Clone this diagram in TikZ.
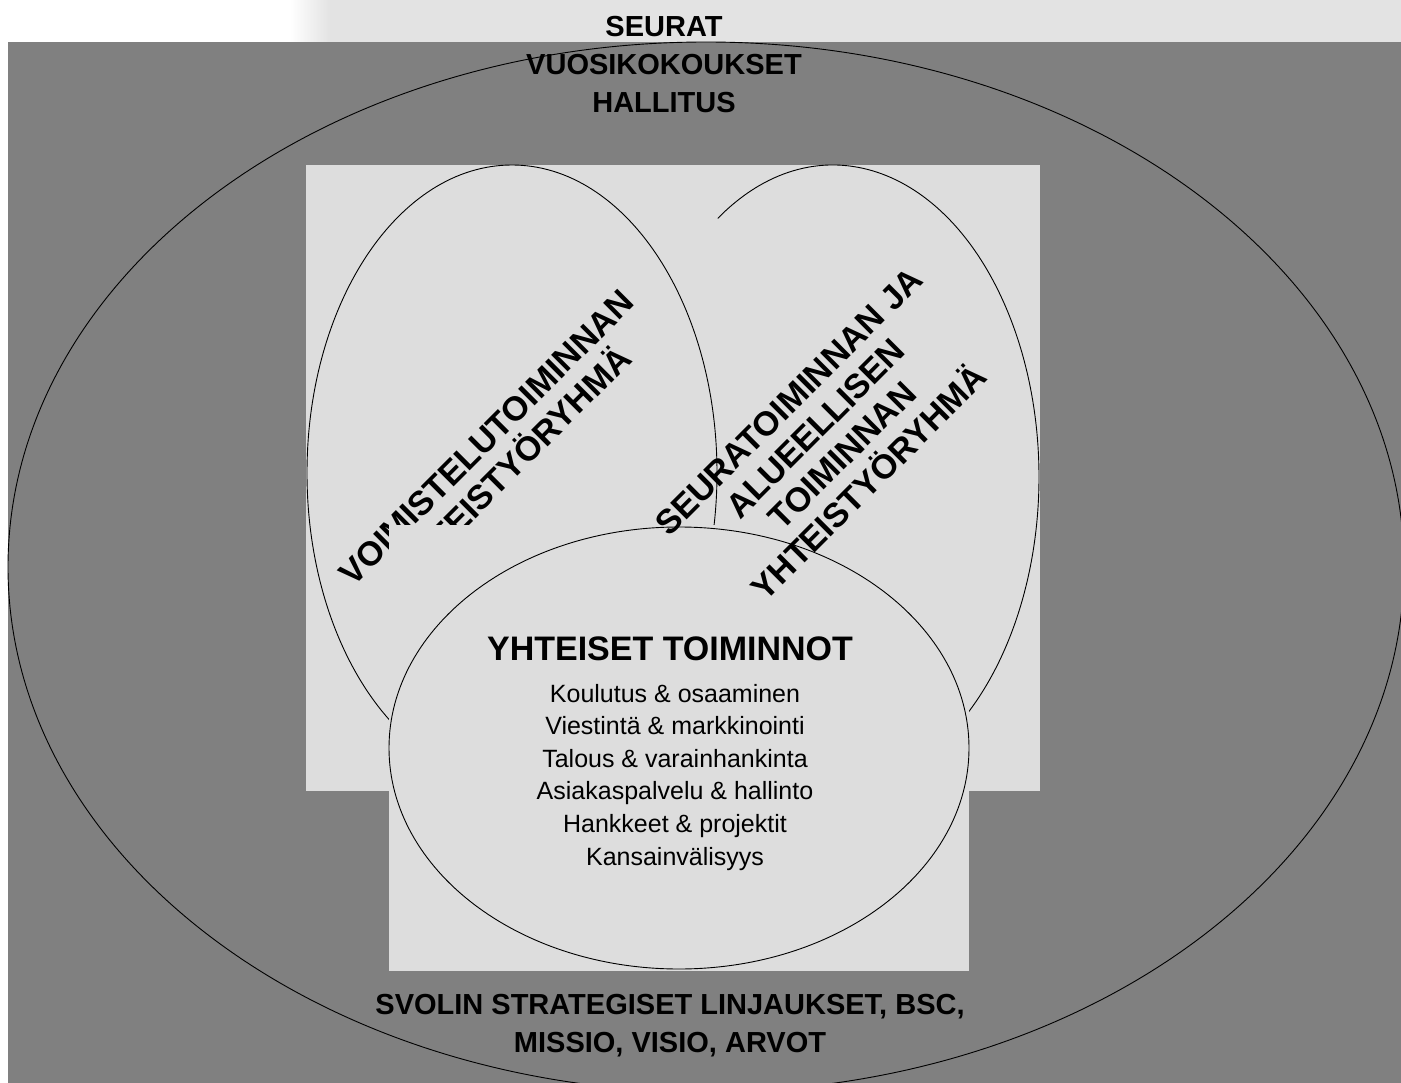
\documentclass[tikz,border=0pt]{standalone}
\usepackage{fontspec}
\setmainfont{Liberation Sans}
\definecolor{panelgray}{HTML}{808080}
\definecolor{boxgray}{HTML}{DDDDDD}
\definecolor{stripgray}{HTML}{E3E3E3}
\tikzset{
  rim/.style={draw=black, line width=0.9pt},
  bigtext/.style={font=\bfseries\fontsize{29}{38}\selectfont, align=center, inner sep=0pt},
  grouptext/.style={font=\bfseries\fontsize{34}{38}\selectfont, align=center, inner sep=0pt, rotate=45},
  itemtext/.style={font=\fontsize{25}{32.6}\selectfont, align=center, inner sep=0pt}
}

\begin{document}
\begin{tikzpicture}[x=1pt,y=-1pt]
\useasboundingbox (0,0) rectangle (1401,1083);
\fill[white] (0,0) rectangle (1401,1083);
\fill[stripgray] (330,0) rectangle (1401,42);
\shade[left color=white, right color=stripgray] (290,0) rectangle (330,42);
\fill[panelgray] (8,42) rectangle (1401,1083);
\draw[rim] (706,567) ellipse (698 and 525);
\fill[boxgray] (306,165) rectangle (1040,791);
\fill[boxgray] (833,477) ellipse (206 and 312);
\draw[rim] (833,477) ++(236:206 and 312) arc[start angle=236, end angle=420, x radius=206, y radius=312];
\draw[rim, fill=boxgray] (512,473) ellipse (205 and 308);
\node[grouptext] (voimistelu) at (500,451) {VOIMISTELUTOIMINNAN\\YHTEISTYÖRYHMÄ};
\fill[boxgray] (389,525) rectangle (969,971);
\draw[rim, fill=boxgray] (679,748) ellipse (290 and 221);
\node[bigtext] (seurat) at (664,64.6) {SEURAT\\VUOSIKOKOUKSET\\HALLITUS};
\node[font=\bfseries\fontsize{34}{40}\selectfont, inner sep=0pt, anchor=base] (yhteiset) at (670,660) {YHTEISET TOIMINNOT};
\node[itemtext] (tehtavat) at (675,777.2) {Koulutus \& osaaminen\\Viestintä \& markkinointi\\Talous \& varainhankinta\\Asiakaspalvelu \& hallinto\\Hankkeet \& projektit\\Kansainvälisyys};
\node[bigtext] (linjaukset) at (670,1025.6) {SVOLIN STRATEGISET LINJAUKSET, BSC,\\MISSIO, VISIO, ARVOT};
\node[grouptext] (seuratoiminta) at (829,442) {SEURATOIMINNAN JA\\ALUEELLISEN\\TOIMINNAN\\YHTEISTYÖRYHMÄ};
\end{tikzpicture}
\end{document}
